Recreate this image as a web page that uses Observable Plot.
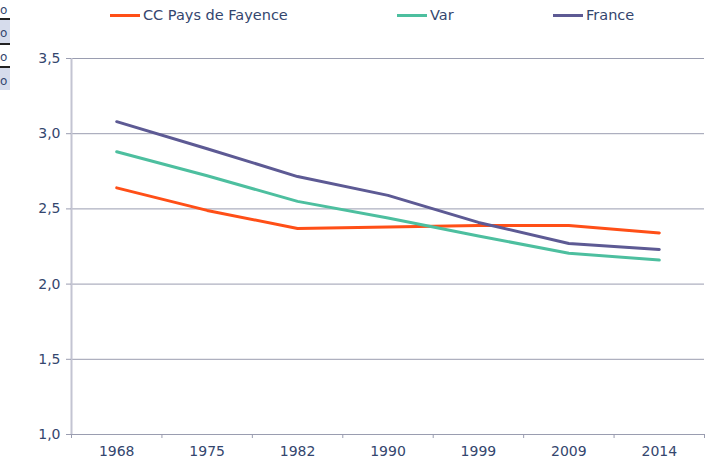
<!DOCTYPE html>
<html>
<head>
<meta charset="utf-8">
<script src="https://cdn.jsdelivr.net/npm/d3@7"></script>
<script src="https://cdn.jsdelivr.net/npm/@observablehq/plot@0.6"></script>
<style>
  body { margin: 0; background: #fff; font-family: "DejaVu Sans", Verdana, sans-serif; }
  #wrap { position: relative; width: 716px; height: 465px; overflow: hidden; }
  #legend { position: relative; height: 32px; font-size: 14.5px; color: #34466e; }
  .item { position: absolute; top: 7px; display: flex; align-items: center; }
  .sw { width: 30px; height: 3px; margin-right: 3px; }
  .frag { position: absolute; left: 0; width: 10px; }
  .fragtxt { position: absolute; font-size: 12px; color: #34466e; left: 0px; }
</style>
</head>
<body>
<div id="wrap">
  <div class="frag" style="top:20px;height:23px;background:#d6dcec"></div>
  <div class="frag" style="top:67px;height:23px;background:#d6dcec"></div>
  <div class="frag" style="top:18px;height:1.5px;background:#222"></div>
  <div class="frag" style="top:43px;height:1.5px;background:#222"></div>
  <div class="frag" style="top:66px;height:1.5px;background:#222"></div>
  <div class="fragtxt" style="top:3px">o</div>
  <div class="fragtxt" style="top:26px">o</div>
  <div class="fragtxt" style="top:50px">o</div>
  <div class="fragtxt" style="top:74px">o</div>
  <div id="legend"></div>
  <div id="chart"></div>
</div>
<script>
const years = ["1968", "1975", "1982", "1990", "1999", "2009", "2014"];
const seriesNames = ["CC Pays de Fayence", "Var", "France"];
const seriesColors = ["#ff4f17", "#4dbf9f", "#5d5a94"];
const ccFayence = [2.64, 2.49, 2.37, 2.38, 2.39, 2.39, 2.34];
const varDept = [2.88, 2.72, 2.55, 2.44, 2.32, 2.205, 2.16];
const france = [3.08, 2.90, 2.715, 2.59, 2.41, 2.27, 2.23];
const yTicks = [1.0, 1.5, 2.0, 2.5, 3.0, 3.5];

const values = [ccFayence, varDept, france];
const data = [];
values.forEach((arr, s) => arr.forEach((v, i) => data.push({series: seriesNames[s], i, year: years[i], v})));

const boundaries = d3.range(years.length + 1).map(k => k - 0.5);

// legend
const legendLeft = [110, 397, 553];
const legend = document.getElementById("legend");
seriesNames.forEach((n, k) => {
  const it = document.createElement("div");
  it.className = "item";
  it.style.left = legendLeft[k] + "px";
  it.innerHTML = `<span class="sw" style="background:${seriesColors[k]}"></span><span>${n}</span>`;
  legend.appendChild(it);
});

const fmt = d => d.toFixed(1).replace(".", ",");

const chart = Plot.plot({
  width: 716,
  height: 433,
  marginTop: 26,
  marginBottom: 31,
  marginLeft: 71,
  marginRight: 12,
  style: {fontFamily: "DejaVu Sans, Verdana, sans-serif", fontSize: "14px", color: "#34466e", background: "transparent"},
  x: {type: "linear", domain: [-0.5, years.length - 0.5]},
  y: {domain: [1, 3.5]},
  color: {domain: seriesNames, range: seriesColors},
  marks: [
    Plot.gridY(yTicks, {stroke: "#9a9db0", strokeOpacity: 1, strokeWidth: 1}),
    Plot.ruleX([boundaries[0]], {stroke: "#c3c4d2", strokeWidth: 2}),
    Plot.axisY({ticks: yTicks, tickFormat: fmt, tickSize: 5, tickPadding: 6, stroke: "#9a9db0", fill: "#34466e", label: null}),
    Plot.axisX({ticks: boundaries, tickFormat: () => "", tickSize: 4, stroke: "#9a9db0", label: null}),
    Plot.axisX({ticks: d3.range(years.length), tickFormat: i => years[i], tickSize: 0, tickPadding: 12, fill: "#34466e", label: null}),
    Plot.line(data, {x: "i", y: "v", z: "series", stroke: "series", strokeWidth: 3, curve: "linear"})
  ]
});
document.getElementById("chart").appendChild(chart);
</script>
</body>
</html>
